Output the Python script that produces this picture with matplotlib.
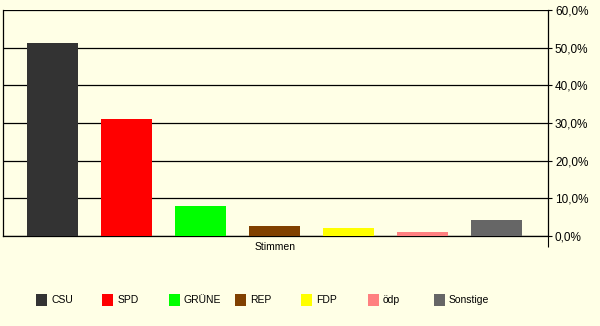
import matplotlib.pyplot as plt
from matplotlib.patches import Rectangle

# Stimmenanteile in Prozent
parteien = ["CSU", "SPD", "GRÜNE", "REP", "FDP", "ödp", "Sonstige"]
anteile = [51.2, 31.0, 8.0, 2.6, 2.1, 1.1, 4.2]
farben = ["#333333", "#FF0000", "#00FF00", "#804000", "#FFFF00", "#FF8080", "#666666"]
yticks = [0, 10, 20, 30, 40, 50, 60]
kategorie = "Stimmen"

bg = "#FFFFE6"
plt.rcParams["font.family"] = ["Liberation Sans", "DejaVu Sans"]

fig = plt.figure(figsize=(6, 3.26), dpi=100, facecolor=bg)
ax = fig.add_axes([3 / 600, 1 - 236 / 326, 545 / 600, 226 / 326])
ax.set_facecolor(bg)

xs = list(range(len(parteien)))
ax.bar(xs, anteile, width=0.69, color=farben, zorder=3)

ax.set_xlim(-0.67, 6.69)
ax.set_ylim(0, 60)
ax.set_yticks(yticks)
ax.set_yticklabels([f"{v:.1f}%".replace(".", ",") for v in yticks], fontsize=8.5)
ax.yaxis.tick_right()
ax.tick_params(axis="y", direction="out", length=3, width=0.8, pad=2)
ax.grid(axis="y", color="black", linewidth=0.9, zorder=1)

ax.set_xticks([3])
ax.set_xticklabels([kategorie], fontsize=7.5)
ax.tick_params(axis="x", length=0, pad=4)
ax.set_xticks([6.69], minor=True)
ax.tick_params(axis="x", which="minor", length=8, width=0.8, direction="out")

for s in ["left", "right", "bottom"]:
    ax.spines[s].set_linewidth(0.9)
ax.spines["top"].set_visible(False)

# Legende unten
for i, (name, c) in enumerate(zip(parteien, farben)):
    x0 = 36 + i * 66.3
    fig.add_artist(Rectangle((x0 / 600, 1 - 306 / 326), 11 / 600, 12 / 326,
                             transform=fig.transFigure, facecolor=c, edgecolor="none"))
    fig.text((x0 + 15) / 600, 1 - 300 / 326, name, fontsize=7.5, va="center", ha="left")

fig.savefig("out.png", dpi=100, facecolor=bg)
